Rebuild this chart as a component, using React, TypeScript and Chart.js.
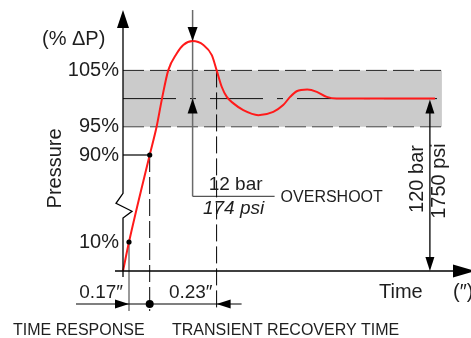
import React, { useEffect, useRef } from 'react';
import { Chart, registerables } from 'chart.js';

Chart.register(...registerables);

// ---- data (schematic time units, pressure in % of ΔP) ----
const timeUnits = [0, 2, 8.9, 11.2, 13, 15.1, 17.9, 20.1, 23.2, 26.8, 29.6, 31.2, 32.9, 34.6, 36.8, 40.1, 45.1, 50.1, 53.4, 55.7, 57.9, 61.4, 64.6, 67.9, 71.2, 104];
const pressurePct = [0, 10, 90, 95, 100, 105.05, 108.0, 109.5, 110.2, 109.5, 107.7, 105.05, 102.1, 100.3, 99.15, 97.96, 97.07, 97.66, 98.85, 100.3, 101.3, 101.6, 101.2, 100.3, 100, 100];

const yTicks = [105, 95, 90, 10];
const yTickLabels = ['105%', '95%', '90%', '10%'];
const bandPct = [95, 105];
const setPointPct = 100;
const axisBreakPct = [32, 54.8];

// key instants (schematic time units)
const t10 = 2;
const t90 = 8.9;
const tPeak = 23.2;
const tRecover = 31.2;
const tFullScale = 102.3;
const tBandEnd = 106.3;
const xMax = 110;

const dimLabels = ['0.17″', '0.23″'];
const overshootLabels = ['12 bar', '174 psi', 'OVERSHOOT'];
const fullScaleLabels = ['120 bar', '1750 psi'];
const bottomLabels = ['TIME RESPONSE', 'TRANSIENT RECOVERY TIME'];

// piecewise (broken) pressure axis
function warp(p: number): number {
  if (p <= 10) return p * 2.9;
  if (p <= 90) return 29 + (p - 10) * 1.0875;
  return 116 + (p - 90) * 5.64;
}
const yMaxW = 261;

const FONT = '"Liberation Sans", Arial, sans-serif';
const TXT = '#1e1e1e';

function arrow(ctx: CanvasRenderingContext2D, tx: number, ty: number, dir: 'up' | 'down' | 'left' | 'right', len: number, half: number, color = '#000') {
  ctx.save();
  ctx.fillStyle = color;
  ctx.beginPath();
  ctx.moveTo(tx, ty);
  if (dir === 'down') { ctx.lineTo(tx - half, ty - len); ctx.lineTo(tx + half, ty - len); }
  if (dir === 'up') { ctx.lineTo(tx - half, ty + len); ctx.lineTo(tx + half, ty + len); }
  if (dir === 'right') { ctx.lineTo(tx - len, ty - half); ctx.lineTo(tx - len, ty + half); }
  if (dir === 'left') { ctx.lineTo(tx + len, ty - half); ctx.lineTo(tx + len, ty + half); }
  ctx.closePath();
  ctx.fill();
  ctx.restore();
}

function line(ctx: CanvasRenderingContext2D, x1: number, y1: number, x2: number, y2: number, color: string, w: number, dash: number[] = []) {
  ctx.save();
  ctx.strokeStyle = color;
  ctx.lineWidth = w;
  ctx.setLineDash(dash);
  ctx.beginPath();
  ctx.moveTo(x1, y1);
  ctx.lineTo(x2, y2);
  ctx.stroke();
  ctx.restore();
}

function dot(ctx: CanvasRenderingContext2D, x: number, y: number, r: number) {
  ctx.save();
  ctx.fillStyle = '#000';
  ctx.beginPath();
  ctx.arc(x, y, r, 0, Math.PI * 2);
  ctx.fill();
  ctx.restore();
}

function text(ctx: CanvasRenderingContext2D, s: string, x: number, y: number, size: number, align: CanvasTextAlign, baseline: CanvasTextBaseline, italic = false, rot = 0) {
  ctx.save();
  ctx.fillStyle = TXT;
  ctx.font = `${italic ? 'italic ' : ''}${size}px ${FONT}`;
  ctx.textAlign = align;
  ctx.textBaseline = baseline;
  ctx.translate(x, y);
  if (rot) ctx.rotate(rot);
  ctx.fillText(s, 0, 0);
  ctx.restore();
}

const diagramPlugin = {
  id: 'diagram',
  beforeDatasetsDraw(chart: any) {
    const ctx: CanvasRenderingContext2D = chart.ctx;
    const xs = chart.scales.x, ys = chart.scales.y;
    const X = (t: number) => xs.getPixelForValue(t);
    const Y = (p: number) => ys.getPixelForValue(warp(p));
    const top = chart.chartArea.top;
    const axisY = Y(0);
    const dimY = axisY + 33;
    const fracY = Y(52);

    // tolerance band
    ctx.save();
    ctx.fillStyle = '#cbcbcb';
    ctx.fillRect(X(0), Y(bandPct[1]), X(tBandEnd) - X(0), Y(bandPct[0]) - Y(bandPct[1]));
    ctx.restore();
    line(ctx, X(0), Y(bandPct[1]), X(tBandEnd), Y(bandPct[1]), '#222', 1, [21, 6]);
    line(ctx, X(0), Y(bandPct[0]), X(tBandEnd), Y(bandPct[0]), '#444', 1, [21, 6]);
    line(ctx, X(0), Y(setPointPct), X(tBandEnd) - 3, Y(setPointPct), '#111', 1, [53, 14, 6, 14]);

    // overshoot bracket
    line(ctx, X(tPeak), top, X(tPeak), fracY, '#6a6a6a', 1.5);
    line(ctx, X(tPeak), fracY, X(tPeak) + 82, fracY, '#555', 1.2);

    // guide lines
    line(ctx, X(0), Y(90), X(t90), Y(90), '#000', 1.2);
    line(ctx, X(t90), Y(90), X(t90), dimY + 7, '#000', 1, [17, 5]);
    line(ctx, X(tRecover), Y(bandPct[1]), X(tRecover), dimY + 7, '#000', 1, [17, 5]);
    line(ctx, X(t10), Y(10), X(t10), dimY + 7, '#777', 1.5);
  },
  afterDatasetsDraw(chart: any) {
    const ctx: CanvasRenderingContext2D = chart.ctx;
    const xs = chart.scales.x, ys = chart.scales.y;
    const X = (t: number) => xs.getPixelForValue(t);
    const Y = (p: number) => ys.getPixelForValue(warp(p));
    const ca = chart.chartArea;
    const x0 = X(0);
    const axisY = Y(0);
    const dimY = axisY + 33;
    const fracY = Y(52);

    // y axis with break
    const bTop = Y(axisBreakPct[1]);
    const bBot = Y(axisBreakPct[0]);
    ctx.save();
    ctx.strokeStyle = '#000';
    ctx.lineWidth = 1.3;
    ctx.beginPath();
    ctx.moveTo(x0, ca.top + 16);
    ctx.lineTo(x0, bTop);
    ctx.lineTo(x0 - 7, bTop + 10);
    ctx.lineTo(x0 + 9, bTop + 18);
    ctx.lineTo(x0, bBot);
    ctx.lineTo(x0, axisY + 6);
    ctx.stroke();
    ctx.restore();
    arrow(ctx, x0, ca.top, 'up', 18, 6);

    // x axis
    line(ctx, x0 - 8, axisY, ca.right, axisY, '#000', 1.5);
    arrow(ctx, ca.right + 22, axisY, 'right', 22, 6.5);

    // overshoot arrows
    arrow(ctx, X(tPeak), Y(110.2), 'down', 14, 5);
    arrow(ctx, X(tPeak), Y(setPointPct), 'up', 15, 5);

    // full scale arrow
    line(ctx, X(tFullScale), Y(setPointPct) + 6, X(tFullScale), axisY - 6, '#000', 1.3);
    arrow(ctx, X(tFullScale), Y(setPointPct) + 1, 'up', 14, 4.5);
    arrow(ctx, X(tFullScale), axisY, 'down', 14, 4.5);

    // dots
    dot(ctx, X(t10), Y(10), 2.6);
    dot(ctx, X(t90), Y(90), 2.6);

    // dimension line
    line(ctx, x0 - 47, dimY, X(tRecover) + 25, dimY, '#000', 1.2);
    arrow(ctx, X(t10), dimY, 'right', 14, 4.5);
    arrow(ctx, X(tRecover), dimY, 'left', 14, 4.5);
    dot(ctx, X(t90), dimY, 4);

    // texts
    yTicks.forEach((p, i) => text(ctx, yTickLabels[i], x0 - 4, Y(p), 20, 'right', 'middle'));
    text(ctx, '(% ΔP)', x0 - 81, ca.top + 35, 20, 'left', 'alphabetic');
    text(ctx, 'Pressure', 55, (Y(95) + Y(10)) / 2 - 16, 20, 'center', 'middle', false, -Math.PI / 2);

    text(ctx, overshootLabels[0], X(tPeak) + 43, fracY - 6, 19, 'center', 'alphabetic');
    text(ctx, overshootLabels[1], X(tPeak) + 41, fracY + 18, 19, 'center', 'alphabetic', true);
    text(ctx, overshootLabels[2], X(tPeak) + 88, fracY + 1, 16, 'left', 'middle');

    text(ctx, fullScaleLabels[0], X(tFullScale) - 12, 179, 20, 'center', 'middle', false, -Math.PI / 2);
    text(ctx, fullScaleLabels[1], X(tFullScale) + 10, 181, 20, 'center', 'middle', false, -Math.PI / 2);

    text(ctx, dimLabels[0], x0, dimY - 6, 19, 'right', 'alphabetic');
    text(ctx, dimLabels[1], X(tRecover) - 4, dimY - 6, 19, 'right', 'alphabetic');

    text(ctx, 'Time', 379, dimY - 6, 20, 'left', 'alphabetic');
    text(ctx, '(″)', 453, dimY - 6, 20, 'left', 'alphabetic');

    text(ctx, bottomLabels[0], 13, 335, 16, 'left', 'alphabetic');
    text(ctx, bottomLabels[1], 172, 335, 16, 'left', 'alphabetic');
  },
};

export default function App() {
  const ref = useRef<HTMLCanvasElement>(null);
  useEffect(() => {
    if (!ref.current) return;
    const chart = new Chart(ref.current, {
      type: 'line',
      data: {
        datasets: [
          {
            data: timeUnits.map((t, i) => ({ x: t, y: warp(pressurePct[i]) })),
            borderColor: '#ff1a1a',
            borderWidth: 2,
            pointRadius: 0,
            fill: false,
            cubicInterpolationMode: 'monotone',
            clip: false as any,
          },
        ],
      },
      options: {
        animation: false,
        responsive: false,
        devicePixelRatio: 1,
        layout: { padding: { left: 123, right: 18, top: 10, bottom: 67 } },
        scales: {
          x: { type: 'linear', min: 0, max: xMax, display: false },
          y: { type: 'linear', min: 0, max: yMaxW, display: false },
        },
        plugins: { legend: { display: false }, tooltip: { enabled: false } },
      },
      plugins: [diagramPlugin],
    });
    return () => chart.destroy();
  }, []);
  return (
    <div style={{ position: 'fixed', left: 0, top: 0, width: 471, height: 338, background: '#fff' }}>
      <canvas ref={ref} width={471} height={338} style={{ width: 471, height: 338, display: 'block' }} />
    </div>
  );
}
